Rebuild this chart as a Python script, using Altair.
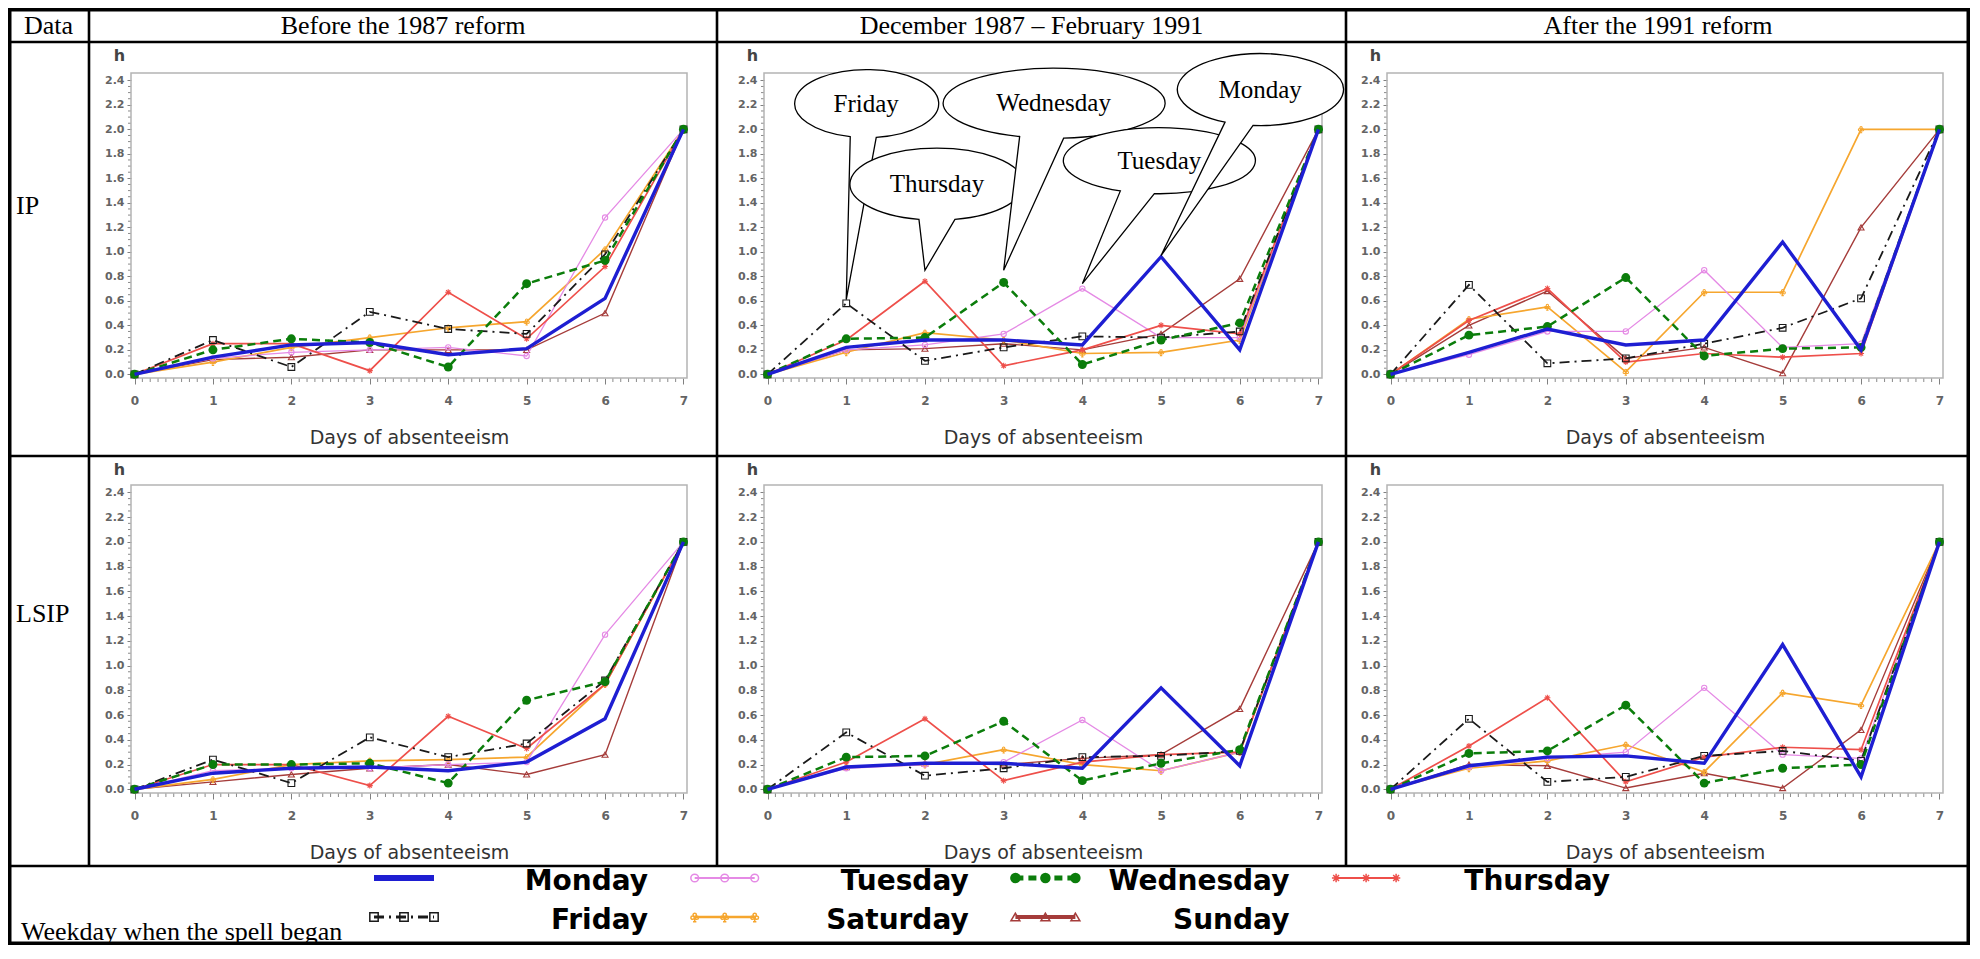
import math
import altair as alt
import pandas as pd

# ---------------- data ----------------
WEEKDAYS = ["Monday", "Tuesday", "Wednesday", "Thursday", "Friday", "Saturday", "Sunday"]
DAYS = [0, 1, 2, 3, 4, 5, 6, 7]
X_TICKS = [0, 1, 2, 3, 4, 5, 6, 7]
Y_TICKS = [0.0, 0.2, 0.4, 0.6, 0.8, 1.0, 1.2, 1.4, 1.6, 1.8, 2.0, 2.2, 2.4]
X_MINOR = [round(i * 0.1, 1) for i in range(71) if i % 10]
Y_MINOR = [round(i * 0.05, 2) for i in range(49) if i % 4]

CORNER = "Data"
COL_TITLES = ["Before the 1987 reform", "December 1987 \u2013 February 1991", "After the 1991 reform"]
ROW_TITLES = ["IP", "LSIP"]
LEGEND_TITLE = "Weekday when the spell began"
X_TITLE = "Days of absenteeism"
Y_TITLE = "h"

IP_BEFORE = {
    "Monday":    [0, 0.14, 0.24, 0.26, 0.16, 0.21, 0.62, 2.0],
    "Tuesday":   [0, 0.13, 0.18, 0.20, 0.22, 0.15, 1.28, 2.0],
    "Wednesday": [0, 0.20, 0.29, 0.26, 0.06, 0.74, 0.93, 2.0],
    "Thursday":  [0, 0.25, 0.25, 0.03, 0.67, 0.29, 0.88, 2.0],
    "Friday":    [0, 0.28, 0.06, 0.51, 0.37, 0.33, 0.98, 2.0],
    "Saturday":  [0, 0.10, 0.22, 0.30, 0.38, 0.43, 1.02, 2.0],
    "Sunday":    [0, 0.12, 0.14, 0.20, 0.20, 0.20, 0.50, 2.0],
}
IP_MIDDLE = {
    "Monday":    [0, 0.22, 0.28, 0.28, 0.24, 0.96, 0.20, 2.0],
    "Tuesday":   [0, 0.20, 0.24, 0.33, 0.70, 0.30, 0.30, 2.0],
    "Wednesday": [0, 0.29, 0.30, 0.75, 0.08, 0.28, 0.42, 2.0],
    "Thursday":  [0, 0.28, 0.76, 0.07, 0.20, 0.40, 0.33, 2.0],
    "Friday":    [0, 0.58, 0.11, 0.22, 0.31, 0.30, 0.35, 2.0],
    "Saturday":  [0, 0.18, 0.34, 0.28, 0.17, 0.18, 0.28, 2.0],
    "Sunday":    [0, 0.20, 0.21, 0.25, 0.20, 0.33, 0.78, 2.0],
}
IP_AFTER = {
    "Monday":    [0, 0.18, 0.37, 0.24, 0.28, 1.08, 0.20, 2.0],
    "Tuesday":   [0, 0.16, 0.35, 0.35, 0.85, 0.22, 0.25, 2.0],
    "Wednesday": [0, 0.32, 0.39, 0.79, 0.15, 0.21, 0.22, 2.0],
    "Thursday":  [0, 0.44, 0.70, 0.10, 0.17, 0.14, 0.17, 2.0],
    "Friday":    [0, 0.73, 0.09, 0.13, 0.25, 0.38, 0.62, 2.0],
    "Saturday":  [0, 0.45, 0.55, 0.02, 0.67, 0.67, 2.00, 2.0],
    "Sunday":    [0, 0.40, 0.68, 0.13, 0.22, 0.01, 1.20, 2.0],
}
LSIP_BEFORE = {
    "Monday":    [0, 0.13, 0.17, 0.18, 0.15, 0.22, 0.57, 2.0],
    "Tuesday":   [0, 0.15, 0.17, 0.17, 0.20, 0.22, 1.25, 2.0],
    "Wednesday": [0, 0.20, 0.20, 0.21, 0.05, 0.72, 0.87, 2.0],
    "Thursday":  [0, 0.20, 0.20, 0.03, 0.59, 0.33, 0.85, 2.0],
    "Friday":    [0, 0.24, 0.05, 0.42, 0.26, 0.37, 0.88, 2.0],
    "Saturday":  [0, 0.08, 0.20, 0.23, 0.24, 0.26, 0.85, 2.0],
    "Sunday":    [0, 0.06, 0.12, 0.17, 0.20, 0.12, 0.28, 2.0],
}
LSIP_MIDDLE = {
    "Monday":    [0, 0.18, 0.21, 0.21, 0.17, 0.82, 0.19, 2.0],
    "Tuesday":   [0, 0.17, 0.20, 0.22, 0.56, 0.15, 0.30, 2.0],
    "Wednesday": [0, 0.26, 0.27, 0.55, 0.07, 0.21, 0.32, 2.0],
    "Thursday":  [0, 0.22, 0.57, 0.07, 0.22, 0.28, 0.30, 2.0],
    "Friday":    [0, 0.46, 0.11, 0.17, 0.26, 0.27, 0.31, 2.0],
    "Saturday":  [0, 0.18, 0.20, 0.32, 0.20, 0.15, 0.30, 2.0],
    "Sunday":    [0, 0.18, 0.21, 0.20, 0.25, 0.28, 0.65, 2.0],
}
LSIP_AFTER = {
    "Monday":    [0, 0.19, 0.26, 0.27, 0.21, 1.17, 0.10, 2.0],
    "Tuesday":   [0, 0.18, 0.25, 0.30, 0.82, 0.28, 0.25, 2.0],
    "Wednesday": [0, 0.29, 0.31, 0.68, 0.05, 0.17, 0.20, 2.0],
    "Thursday":  [0, 0.35, 0.74, 0.06, 0.26, 0.34, 0.32, 2.0],
    "Friday":    [0, 0.57, 0.06, 0.10, 0.27, 0.31, 0.23, 2.0],
    "Saturday":  [0, 0.17, 0.23, 0.36, 0.14, 0.78, 0.68, 2.0],
    "Sunday":    [0, 0.20, 0.19, 0.01, 0.13, 0.01, 0.48, 2.0],
}

# callouts in the IP / 1987-1991 panel
CALLOUT_LABELS = ["Friday", "Thursday", "Wednesday", "Tuesday", "Monday"]
CALLOUT_DAY = [1, 2, 3, 4, 5]
CALLOUT_TIP = [0.61, 0.85, 0.85, 0.74, 0.97]

# ---------------- styles / layout ----------------
ASTERISK = "M-1,0L1,0M0,-1L0,1M-0.7,-0.7L0.7,0.7M-0.7,0.7L0.7,-0.7"
CLUB = ("M-0.35,-0.45 A0.35 0.35 0 1 0 0.35,-0.45 A0.35 0.35 0 1 0 -0.35,-0.45 "
        "M-0.8,0.15 A0.35 0.35 0 1 0 -0.1,0.15 A0.35 0.35 0 1 0 -0.8,0.15 "
        "M0.1,0.15 A0.35 0.35 0 1 0 0.8,0.15 A0.35 0.35 0 1 0 0.1,0.15 "
        "M0,0.3 L0,1 M-0.35,1 L0.35,1")

STYLE = {
    "Monday":    dict(color="#1e1ed2", width=3.4, lw=6),
    "Tuesday":   dict(color="#e58ae5", width=1.3, lw=2, shape="circle", size=28, filled=False, lsize=60),
    "Wednesday": dict(color="#0b7d0b", width=2.5, lw=5, dash=[8, 5], shape="circle", size=80, filled=True, lsize=110),
    "Thursday":  dict(color="#ee4f4a", width=1.7, lw=2, shape=ASTERISK, size=36, filled=False, lsize=70),
    "Friday":    dict(color="#1a1a1a", width=1.8, lw=3, dash=[10, 5, 2, 5], shape="square", size=45, filled=False, lsize=70),
    "Saturday":  dict(color="#f6a62e", width=1.7, lw=2.5, shape=CLUB, size=45, filled=False, lsize=90),
    "Sunday":    dict(color="#a53c3a", width=1.4, lw=4, shape="triangle-up", size=36, filled=False, lsize=80),
}
Z_ORDER = ["Sunday", "Saturday", "Tuesday", "Thursday", "Friday", "Wednesday", "Monday"]

COL_W = [81, 628, 629, 624]
ROW_H = [34, 414, 410, 79]
FRAME_L = [42, 47, 41]
FRAME_R = [30, 24, 27]
FRAME_T = [31, 29]
FRAME_B = [78, 73]
X_LO, X_HI = -0.045, 7.045
Y_LO, Y_HI = -0.03, 2.46
T_IN, T_OUT = 1.3, 3.5   # border thickness drawn inside each cell

# callout balloon geometry in pixels relative to the tip: centre dx, dy, rx, ry, base offsets
CALLOUT_SHAPES = [
    (20, -196, 72, 34, -16, 10),
    (12, -86, 87, 36, -18, 18),
    (50, -167, 111, 35, -34, 10),
    (77, -123, 96, 33, -39, -5),
    (99, -166, 83, 36, -35, -7),
]

LABEL_FONT = "DejaVu Sans"
SERIF = "Liberation Serif"
ONE = pd.DataFrame({"k": [0]})


def border_layers(w, h, top, right, bottom, left):
    out = []
    for (x, x2, y, y2) in [(0, w, 0, top), (w - right, w, 0, h), (0, w, h - bottom, h), (0, left, 0, h)]:
        out.append(alt.Chart(ONE).mark_rect(color="black").encode(
            x=alt.value(x), x2=alt.value(x2), y=alt.value(y), y2=alt.value(y2)))
    return out


def balloon_path(ex, ey, rx, ry, a1, a2):
    b1y = ey + ry * math.sqrt(1 - (a1 / rx) ** 2)
    b2y = ey + ry * math.sqrt(1 - (a2 / rx) ** 2)
    return f"M0,0 L{ex + a1:.1f},{b1y:.1f} A{rx} {ry} 0 1 1 {ex + a2:.1f},{b2y:.1f} Z"


def panel(series, ci, ri, callouts=False):
    W, H = COL_W[ci + 1], ROW_H[ri + 1]
    fl, fr, ft, fb = FRAME_L[ci], FRAME_R[ci], FRAME_T[ri], FRAME_B[ri]
    fw, fh = W - fl - fr, H - ft - fb
    u = (X_HI - X_LO) / fw
    v = (Y_HI - Y_LO) / fh
    xs = alt.Scale(domain=[X_LO - fl * u, X_HI + fr * u], nice=False, zero=False)
    ys = alt.Scale(domain=[Y_LO - fb * v, Y_HI + ft * v], nice=False, zero=False)

    x_axis = alt.Axis(values=X_TICKS, orient="bottom", offset=-fb, domain=False, grid=False,
                      tickSize=6, tickColor="#808080", tickWidth=1,
                      labelFont=LABEL_FONT, labelFontSize=12, labelFontWeight="bold",
                      labelColor="#646464", labelPadding=11, labelFlush=False, labelOverlap=False,
                      title=X_TITLE, titleFont=LABEL_FONT, titleFontSize=19, titleFontWeight="normal",
                      titleColor="#333333", titleX=fl + fw / 2, titleY=59,
                      titleAlign="center", titleBaseline="middle")
    y_axis = alt.Axis(values=Y_TICKS, format=".1f", orient="left", offset=-fl, domain=False, grid=False,
                      tickSize=4, tickColor="#808080", tickWidth=1,
                      labelFont=LABEL_FONT, labelFontSize=11, labelFontWeight="bold",
                      labelColor="#646464", labelPadding=3, labelFlush=False, labelOverlap=False,
                      title=Y_TITLE, titleFont=LABEL_FONT, titleFontSize=16, titleFontWeight="bold",
                      titleColor="#444444", titleAngle=0, titleX=-12, titleY=13,
                      titleAlign="center", titleBaseline="middle")

    def X(field):
        return alt.X(field, scale=xs, axis=x_axis)

    def Y(field):
        return alt.Y(field, scale=ys, axis=y_axis)

    rows = [{"weekday": wd, "day": d, "h": val}
            for wd in WEEKDAYS for d, val in zip(DAYS, series[wd])]
    df = pd.DataFrame(rows)

    layers = []
    # minor ticks
    layers.append(alt.Chart(pd.DataFrame({"p": X_MINOR})).mark_rule(color="#8a8a8a", strokeWidth=1).encode(
        x=X("p:Q"), y=alt.YDatum(Y_LO, scale=ys, axis=y_axis), y2=alt.Y2Datum(Y_LO - 4 * v)))
    layers.append(alt.Chart(pd.DataFrame({"p": Y_MINOR})).mark_rule(color="#8a8a8a", strokeWidth=1).encode(
        y=Y("p:Q"), x=alt.XDatum(X_LO, scale=xs, axis=x_axis), x2=alt.X2Datum(X_LO - 3 * u)))
    # frame
    layers.append(alt.Chart(ONE).mark_rect(filled=False, stroke="#b4b4b4", strokeWidth=1.5).encode(
        x=alt.XDatum(X_LO, scale=xs, axis=x_axis), x2=alt.X2Datum(X_HI),
        y=alt.YDatum(Y_LO, scale=ys, axis=y_axis), y2=alt.Y2Datum(Y_HI)))

    for wd in Z_ORDER:
        st = STYLE[wd]
        sub = df[df.weekday == wd]
        kw = dict(color=st["color"], strokeWidth=st["width"])
        if "dash" in st:
            kw["strokeDash"] = st["dash"]
        layers.append(alt.Chart(sub).mark_line(**kw).encode(x=X("day:Q"), y=Y("h:Q")))
        if "shape" in st:
            layers.append(alt.Chart(sub).mark_point(
                shape=st["shape"], size=st["size"], filled=st["filled"], color=st["color"],
                opacity=1, strokeWidth=1.1).encode(x=X("day:Q"), y=Y("h:Q")))

    if callouts:
        for lab, day, tip, geom in zip(CALLOUT_LABELS, CALLOUT_DAY, CALLOUT_TIP, CALLOUT_SHAPES):
            ex, ey, rx, ry, a1, a2 = geom
            dfc = pd.DataFrame({"day": [day], "h": [tip], "label": [lab]})
            layers.append(alt.Chart(dfc).mark_point(
                shape=balloon_path(ex, ey, rx, ry, a1, a2), size=4, filled=True,
                fill="white", stroke="black", strokeWidth=1.3, opacity=1).encode(
                x=X("day:Q"), y=Y("h:Q")))
            layers.append(alt.Chart(dfc).mark_text(
                dx=ex, dy=ey, font=SERIF, fontSize=25, color="black",
                align="center", baseline="middle").encode(
                x=X("day:Q"), y=Y("h:Q"), text="label:N"))

    right = T_OUT if ci == 2 else T_IN
    borders = border_layers(W, H, T_IN, right, T_IN, T_IN)
    layers = borders + layers if callouts else layers + borders
    return alt.layer(*layers).properties(width=W, height=H)


def text_cell(txt, w, h, x, y, align, borders):
    lay = [alt.Chart(pd.DataFrame({"t": [txt]})).mark_text(
        align=align, baseline="middle", font=SERIF, fontSize=26, color="black"
    ).encode(text="t:N", x=alt.value(x), y=alt.value(y))]
    lay += border_layers(w, h, *borders)
    return alt.layer(*lay).properties(width=w, height=h)


# header row
header = alt.hconcat(
    text_cell(CORNER, COL_W[0], ROW_H[0], COL_W[0] / 2, ROW_H[0] / 2 + 1, "center",
              (T_OUT, T_IN, T_IN, T_OUT)),
    *[text_cell(t, COL_W[i + 1], ROW_H[0], COL_W[i + 1] / 2, ROW_H[0] / 2 + 1, "center",
                (T_OUT, T_OUT if i == 2 else T_IN, T_IN, T_IN))
      for i, t in enumerate(COL_TITLES)],
    spacing=0, bounds="flush",
)

row_ip = alt.hconcat(
    text_cell(ROW_TITLES[0], COL_W[0], ROW_H[1], 8, ROW_H[1] * 0.396, "left", (T_IN, T_IN, T_IN, T_OUT)),
    panel(IP_BEFORE, 0, 0), panel(IP_MIDDLE, 1, 0, callouts=True), panel(IP_AFTER, 2, 0),
    spacing=0, bounds="flush",
)
row_lsip = alt.hconcat(
    text_cell(ROW_TITLES[1], COL_W[0], ROW_H[2], 8, ROW_H[2] * 0.385, "left", (T_IN, T_IN, T_IN, T_OUT)),
    panel(LSIP_BEFORE, 0, 1), panel(LSIP_MIDDLE, 1, 1), panel(LSIP_AFTER, 2, 1),
    spacing=0, bounds="flush",
)

# legend row
LW = sum(COL_W)
LH = ROW_H[3]
PITCH = 320.7
SW0, SWL, LBR = 360.0, 72.0, 640.0
ROW_PX0, ROW_STEP = 12.0, 39.0
lx = alt.Scale(domain=[0, LW / PITCH], nice=False, zero=False)
ly = alt.Scale(domain=[-ROW_PX0 / ROW_STEP, (LH - ROW_PX0) / ROW_STEP], nice=False, zero=False, reverse=True)

sw_rows, lab_rows = [], []
for i, wd in enumerate(WEEKDAYS):
    col, row = i % 4, i // 4
    for k in range(3):
        sw_rows.append({"weekday": wd, "k": k, "x": col + (SW0 + 6 + k * (SWL - 12) / 2) / PITCH, "row": row})
    lab_rows.append({"weekday": wd, "x": col + LBR / PITCH, "row": row})
sw_df = pd.DataFrame(sw_rows)
lab_df = pd.DataFrame(lab_rows)

leg_layers = [
    alt.Chart(pd.DataFrame({"t": [LEGEND_TITLE]})).mark_text(
        align="left", baseline="middle", font=SERIF, fontSize=26, color="black"
    ).encode(text="t:N", x=alt.value(13), y=alt.value(LH - 13)),
]
for wd in WEEKDAYS:
    st = STYLE[wd]
    sub = sw_df[sw_df.weekday == wd]
    kw = dict(color=st["color"], strokeWidth=st["lw"])
    if "dash" in st:
        kw["strokeDash"] = st["dash"]
    leg_layers.append(alt.Chart(sub).mark_line(**kw).encode(
        x=alt.X("x:Q", scale=lx, axis=None), y=alt.Y("row:Q", scale=ly, axis=None)))
    if "shape" in st:
        leg_layers.append(alt.Chart(sub).mark_point(
            shape=st["shape"], size=st["lsize"], filled=st["filled"], color=st["color"],
            opacity=1, strokeWidth=1.5).encode(
            x=alt.X("x:Q", scale=lx, axis=None), y=alt.Y("row:Q", scale=ly, axis=None)))
leg_layers.append(alt.Chart(lab_df).mark_text(
    align="right", baseline="middle", font=LABEL_FONT, fontSize=28, fontWeight="bold",
    color="black", dy=4).encode(
    x=alt.X("x:Q", scale=lx, axis=None), y=alt.Y("row:Q", scale=ly, axis=None), text="weekday:N"))
leg_layers += border_layers(LW, LH, T_IN, T_OUT, T_OUT, T_OUT)
legend = alt.layer(*leg_layers).properties(width=LW, height=LH)

chart = alt.vconcat(header, row_ip, row_lsip, legend, spacing=0).properties(
    padding=0, background="white"
).configure_view(stroke="transparent", strokeWidth=0)

chart.save("out.html", embed_options={"renderer": "svg", "actions": False})
